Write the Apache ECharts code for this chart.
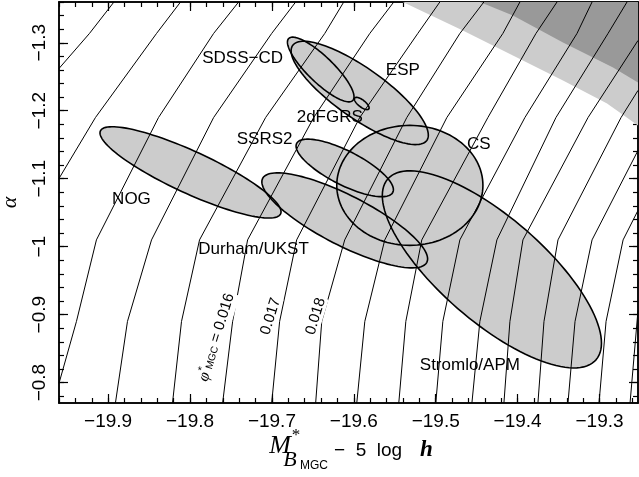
<!DOCTYPE html>
<html><head><meta charset="utf-8">
<script src="https://cdn.jsdelivr.net/npm/echarts@6/dist/echarts.min.js"></script>
<style>html,body{margin:0;padding:0;background:#fff}#c{width:639px;height:477px}</style>
</head><body><div id="c"></div>
<script>
// ---- axes ----
const xMin = -19.96, xMax = -19.253, yMin = -1.36, yMax = -0.77;
const xMajor = [-19.9, -19.8, -19.7, -19.6, -19.5, -19.4, -19.3];
const xTickLabels = ['\u221219.9', '\u221219.8', '\u221219.7', '\u221219.6', '\u221219.5', '\u221219.4', '\u221219.3'];
const yMajor = [-1.3, -1.2, -1.1, -1.0, -0.9, -0.8];
const yTickLabels = ['\u22121.3', '\u22121.2', '\u22121.1', '\u22121', '\u22120.9', '\u22120.8'];
const minorStep = 0.02;

// ---- contour lines of phi*_MGC (M, alpha) ----
const contourLines = [
  [[-19.8929,-1.36],[-19.9228,-1.3137],[-19.96,-1.2622]],
  [[-19.8116,-1.36],[-19.8409,-1.3137],[-19.9155,-1.19],[-19.96,-1.1004]],
  [[-19.7407,-1.36],[-19.7712,-1.3137],[-19.8385,-1.19],[-19.9143,-1.01],[-19.9387,-0.89],[-19.96,-0.799]],
  [[-19.6710,-1.36],[-19.7003,-1.3137],[-19.7712,-1.19],[-19.8470,-1.01],[-19.8764,-0.89],[-19.8911,-0.77]],
  [[-19.6123,-1.36],[-19.6355,-1.3137],[-19.7077,-1.19],[-19.7884,-1.01],[-19.8104,-0.89],[-19.8214,-0.77]],
  [[-19.5512,-1.36],[-19.5805,-1.3137],[-19.6490,-1.19],[-19.7297,-1.01],[-19.7480,-0.89],[-19.7602,-0.77]],
  [[-19.4950,-1.36],[-19.5219,-1.3137],[-19.5928,-1.19],[-19.6698,-1.01],[-19.6906,-0.89],[-19.7003,-0.77]],
  [[-19.4412,-1.36],[-19.4705,-1.3137],[-19.5353,-1.19],[-19.6111,-1.01],[-19.6392,-0.89],[-19.6466,-0.77]],
  [[-19.3972,-1.36],[-19.4180,-1.3137],[-19.4864,-1.19],[-19.5622,-1.01],[-19.5866,-0.89],[-19.5964,-0.77]],
  [[-19.3519,-1.36],[-19.3776,-1.3137],[-19.4363,-1.19],[-19.5170,-1.01],[-19.5365,-0.89],[-19.5451,-0.77]],
  [[-19.3091,-1.36],[-19.3275,-1.3137],[-19.3911,-1.19],[-19.4705,-1.01],[-19.4913,-0.89],[-19.4999,-0.77]],
  [[-19.2664,-1.36],[-19.2896,-1.3137],[-19.3532,-1.19],[-19.4253,-1.01],[-19.4461,-0.89],[-19.4558,-0.77]],
  [[-19.253,-1.3034],[-19.3140,-1.19],[-19.3935,-1.01],[-19.4094,-0.89],[-19.4167,-0.77]],
  [[-19.253,-1.2299],[-19.2737,-1.19],[-19.3507,-1.01],[-19.3678,-0.89],[-19.3752,-0.77]],
  [[-19.253,-1.1416],[-19.3091,-1.01],[-19.3299,-0.89],[-19.3385,-0.77]],
  [[-19.253,-1.0534],[-19.2712,-1.01],[-19.2920,-0.89],[-19.3006,-0.77]],
  [[-19.253,-0.9063],[-19.2627,-0.77]]
];

// ---- shaded MGC confidence bands (outer / inner) ----
const bandOuter = [[-19.5402,-1.36],[-19.4669,-1.3181],[-19.4057,-1.2813],[-19.3446,-1.2446],[-19.2908,-1.2107],[-19.253,-1.1784],[-19.253,-1.36]];
const bandInner = [[-19.4461,-1.36],[-19.4057,-1.3401],[-19.3446,-1.3004],[-19.2835,-1.2637],[-19.253,-1.2416],[-19.253,-1.36]];

// ---- survey error ellipses: centre, major half-axis, minor half-axis (data units) ----
const surveyNames   = ['NOG', 'Durham/UKST', 'SSRS2', 'CS', 'Stromlo/APM', 'ESP', 'SDSS-CD', '2dFGRS'];
const surveyCentres = [[-19.7994,-1.1093],[-19.6111,-1.0387],[-19.6111,-1.1159],[-19.5316,-1.0902],[-19.4314,-0.9666],[-19.5928,-1.2262],[-19.6404,-1.2607],[-19.5903,-1.2107]];
const surveyMajor   = [[0.11002,0.06103],[0.10024,0.06176],[0.05868,0.03603],[0.08924,0],[0.12714,0.13309],[0.08191,0.06985],[0.03912,0.04559],[0.00856,0.00809]];
const surveyMinor   = [[-0.01076,0.02804],[-0.01394,0.03279],[-0.00941,0.02221],[0,0.08824],[-0.04169,0.05765],[-0.0176,0.03],[-0.011,0.01368],[-0.00269,0.00397]];

// ---- survey labels ----
const labelTexts = ['SDSS\u2212CD', 'ESP', '2dFGRS', 'SSRS2', 'CS', 'NOG', 'Durham/UKST', 'Stromlo/APM'];
const labelPos   = [[-19.7358,-1.2769],[-19.5402,-1.2593],[-19.6294,-1.19],[-19.7089,-1.1578],[-19.4473,-1.1504],[-19.8715,-1.0696],[-19.7224,-0.996],[-19.4583,-0.8254]];

// ---- contour labels ----
const contourLabelTexts = ['{i|\u03c6}{sup|*}{sub|MGC} = 0.016', '0.017', '0.018'];
const contourLabelPos   = [[-19.7676,-0.8666],[-19.7016,-0.8975],[-19.6466,-0.8975]];

function minorTicks(a, b) {
  const r = [];
  for (let k = Math.ceil(a / minorStep - 1e-6); k * minorStep <= b + 1e-9; k++) r.push(+(k * minorStep).toFixed(4));
  return r;
}
const xMinor = minorTicks(xMin, xMax);
const yMinor = minorTicks(yMin, yMax);

const labelFont = 'Liberation Sans, Arial, sans-serif';
function axis(kind, pos, ticks, len, labels, tickLabels) {
  const isX = kind === 'x';
  return {
    type: 'value', min: isX ? xMin : yMin, max: isX ? xMax : yMax, position: pos,
    inverse: !isX,
    axisLine: { show: true, onZero: false, lineStyle: { color: '#000', width: 1.5 } },
    axisTick: { show: true, inside: true, length: len, customValues: ticks, lineStyle: { color: '#000', width: 1.2 } },
    axisLabel: labels ? {
      show: true, customValues: ticks, color: '#000', fontSize: 19, fontFamily: labelFont,
      margin: isX ? 9 : 10, rotate: isX ? 0 : 90,
      formatter: v => { const i = ticks.findIndex(m => Math.abs(m - v) < 1e-6); return i >= 0 ? tickLabels[i] : ''; }
    } : { show: false },
    splitLine: { show: false }, minorTick: { show: false }
  };
}

const xAxes = [
  axis('x', 'bottom', xMajor, 9, true, xTickLabels),
  axis('x', 'bottom', xMinor, 5, false),
  axis('x', 'top', xMajor, 9, false),
  axis('x', 'top', xMinor, 5, false)
];
const yAxes = [
  axis('y', 'left', yMajor, 9, true, yTickLabels),
  axis('y', 'left', yMinor, 5, false),
  axis('y', 'right', yMajor, 9, false),
  axis('y', 'right', yMinor, 5, false)
];
yAxes[0].name = '\u03b1';
yAxes[0].nameLocation = 'middle';
yAxes[0].nameGap = 38;
yAxes[0].nameTextStyle = { fontFamily: 'Liberation Serif, serif', fontStyle: 'italic', fontSize: 22, color: '#000' };

function ellipsePts(api, i) {
  const c = surveyCentres[i], u = surveyMajor[i], v = surveyMinor[i], pts = [];
  for (let k = 0; k < 120; k++) {
    const t = k / 120 * 2 * Math.PI;
    pts.push(api.coord([c[0] + u[0] * Math.cos(t) + v[0] * Math.sin(t), c[1] + u[1] * Math.cos(t) + v[1] * Math.sin(t)]));
  }
  return pts;
}

const series = [];
series.push({
  type: 'custom', z: 1, silent: true, clip: true,
  data: [[xMax, yMin, 0], [xMax, yMin, 1]],
  renderItem: (p, api) => {
    const idx = api.value(2);
    const poly = idx === 0 ? bandOuter : bandInner;
    return { type: 'polygon', shape: { points: poly.map(q => api.coord(q)) }, style: { fill: idx === 0 ? '#cccccc' : '#999999', stroke: null } };
  }
});
const ellData = surveyCentres.map((c, i) => [c[0], c[1], i]);
series.push({
  type: 'custom', z: 2, silent: true, data: ellData,
  renderItem: (p, api) => ({ type: 'polygon', shape: { points: ellipsePts(api, api.value(2)) }, style: { fill: '#cccccc', stroke: null } })
});
contourLines.forEach(line => series.push({
  type: 'line', z: 3, silent: true, data: line, showSymbol: false, symbol: 'none', smooth: false,
  lineStyle: { color: '#000', width: 1 }, clip: true
}));
series.push({
  type: 'custom', z: 4, silent: true, data: ellData,
  renderItem: (p, api) => ({ type: 'polygon', shape: { points: ellipsePts(api, api.value(2)) }, style: { fill: 'none', stroke: '#000', lineWidth: 1.6 } })
});
series.push({
  type: 'custom', z: 5, silent: true, data: labelPos.map((c, i) => [c[0], c[1], i]),
  renderItem: (p, api) => {
    const pt = api.coord([api.value(0), api.value(1)]);
    return { type: 'text', x: pt[0], y: pt[1], style: { text: labelTexts[api.value(2)], fill: '#000', fontSize: 17, fontFamily: labelFont, align: 'center', verticalAlign: 'middle' } };
  }
});
series.push({
  type: 'custom', z: 6, silent: true, data: contourLabelPos.map((c, i) => [c[0], c[1], i]),
  renderItem: (p, api) => {
    const pt = api.coord([api.value(0), api.value(1)]);
    return { type: 'text', x: pt[0], y: pt[1], rotation: 73 * Math.PI / 180,
      style: { text: contourLabelTexts[api.value(2)], fill: '#000', fontSize: 15, fontFamily: labelFont, align: 'center', verticalAlign: 'middle',
        backgroundColor: '#fff', padding: [0, 1],
        rich: { i: { fontSize: 16, fontStyle: 'italic', fontFamily: 'Liberation Serif, serif' }, sup: { fontSize: 11, padding: [0, 0, 9, 0], verticalAlign: 'bottom' }, sub: { fontSize: 10, padding: [7, 0, 0, 0], verticalAlign: 'top' } } } };
  }
});

const chart = echarts.init(document.getElementById('c'), null, { renderer: 'canvas' });
chart.setOption({
  animation: false,
  backgroundColor: '#fff',
  grid: { left: 59, right: 1, top: 2, bottom: 74, containLabel: false, outerBoundsMode: 'none' },
  xAxis: xAxes,
  yAxis: yAxes,
  series: series,
  graphic: [
    { type: 'text', x: 280, y: 446, style: { text: 'M', fontFamily: 'Liberation Serif, serif', fontStyle: 'italic', fontSize: 26, fill: '#000', align: 'center', verticalAlign: 'middle' } },
    { type: 'text', x: 296, y: 436, style: { text: '*', fontFamily: 'Liberation Serif, serif', fontSize: 17, fill: '#000', align: 'center', verticalAlign: 'middle' } },
    { type: 'text', x: 290, y: 460, style: { text: 'B', fontFamily: 'Liberation Serif, serif', fontStyle: 'italic', fontSize: 22, fill: '#000', align: 'center', verticalAlign: 'middle' } },
    { type: 'text', x: 300, y: 466, style: { text: 'MGC', fontFamily: labelFont, fontSize: 12, fill: '#000', align: 'left', verticalAlign: 'middle' } },
    { type: 'text', x: 334, y: 451, style: { text: '\u2212  5  log', fontFamily: labelFont, fontSize: 19, fill: '#000', align: 'left', verticalAlign: 'middle' } },
    { type: 'text', x: 420, y: 450, style: { text: 'h', fontFamily: 'Liberation Serif, serif', fontStyle: 'italic', fontWeight: 'bold', fontSize: 23, fill: '#000', align: 'left', verticalAlign: 'middle' } }
  ]
});
</script></body></html>
